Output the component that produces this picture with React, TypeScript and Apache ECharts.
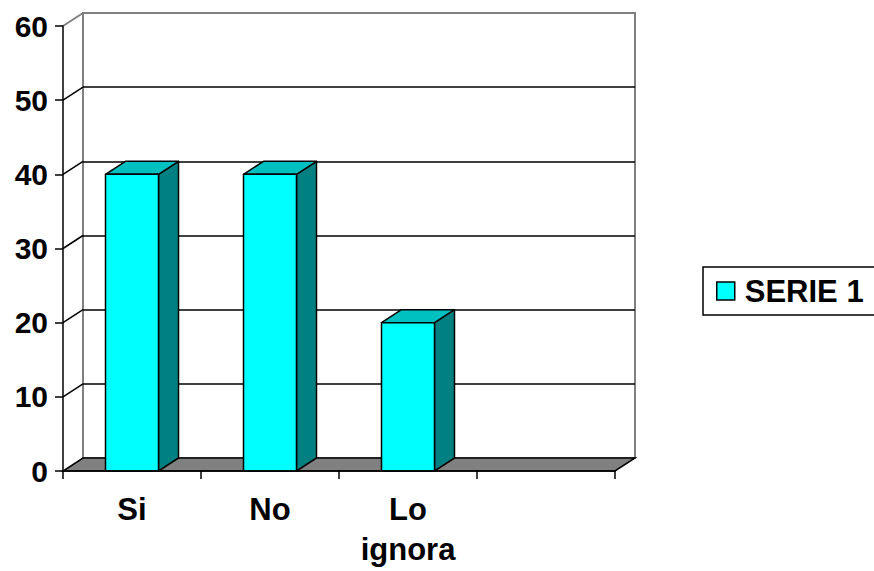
import { useEffect, useRef } from 'react';
import * as echarts from 'echarts';

const categories = ['Si', 'No', 'Lo\nignora', ''];
const serieName = 'SERIE 1';
const serie1 = [40, 40, 20];
const yMin = 0;
const yMax = 60;
const yInterval = 10;

const DX = 20;
const DY = 13;
const FONT = 'Arial, "Liberation Sans", Helvetica, sans-serif';
const FRONT = '#00FFFF';
const TOP = '#00C0C0';
const SIDE = '#008080';

export default function App() {
  const ref = useRef<HTMLDivElement>(null);
  useEffect(() => {
    const chart = echarts.init(ref.current!, null, { renderer: 'svg' });
    const yTicks: number[] = [];
    for (let v = yMin; v <= yMax; v += yInterval) yTicks.push(v);

    const option: any = {
      animation: false,
      backgroundColor: '#fff',
      textStyle: { fontFamily: FONT },
      grid: [
        { left: 63, top: 26, width: 552, height: 445 },
        {
          left: 63 + DX, top: 26 - DY, width: 552, height: 445,
          show: true, backgroundColor: '#fff', borderColor: '#808080', borderWidth: 2,
        },
      ],
      xAxis: [
        {
          type: 'category', gridIndex: 0, data: categories, z: 10,
          axisLine: { lineStyle: { color: '#000', width: 1.5 } },
          axisTick: { show: true, length: 8, lineStyle: { color: '#000', width: 1.5 } },
          axisLabel: {
            color: '#000', fontFamily: FONT, fontWeight: 'bold', fontSize: 31,
            lineHeight: 40, margin: 18, interval: 0,
          },
          splitLine: { show: false },
        },
        { type: 'category', gridIndex: 1, data: categories, show: false },
      ],
      yAxis: [
        {
          type: 'value', gridIndex: 0, min: yMin, max: yMax, interval: yInterval, z: 10,
          axisLine: { show: true, lineStyle: { color: '#000', width: 1.5 } },
          axisTick: { show: true, length: 8, lineStyle: { color: '#000', width: 1.5 } },
          axisLabel: { color: '#000', fontFamily: FONT, fontWeight: 'bold', fontSize: 30, margin: 15 },
          splitLine: { show: false },
        },
        {
          type: 'value', gridIndex: 1, min: yMin, max: yMax, interval: yInterval,
          axisLine: { show: false }, axisTick: { show: false }, axisLabel: { show: false },
          splitLine: { show: true, showMinLine: false, showMaxLine: false, lineStyle: { color: '#000', width: 1.5 } },
        },
      ],
      legend: {
        data: [{ name: serieName, icon: 'rect' }],
        left: 703, top: 267,
        padding: [8.5, 40, 8.5, 13],
        borderColor: '#000', borderWidth: 1.5, backgroundColor: '#fff',
        itemWidth: 18, itemHeight: 18,
        itemStyle: { borderColor: '#000', borderWidth: 1.5 },
        textStyle: {
          color: '#000', fontFamily: FONT, fontWeight: 'bold', fontSize: 31,
          lineHeight: 30, padding: [0, 0, 0, 5],
        },
      },
      series: [
        {
          type: 'custom', name: 'frame', xAxisIndex: 0, yAxisIndex: 0, silent: true, z: 2,
          data: [[0, 0]],
          renderItem: (_params: any, api: any) => {
            const band = api.size([1, 0])[0];
            const first = api.coord([0, yMin]);
            const last = api.coord([categories.length - 1, yMin]);
            const xs = first[0] - band / 2;
            const xe = last[0] + band / 2;
            const y0 = first[1];
            const children: any[] = [
              {
                type: 'polygon',
                shape: { points: [[xs, y0], [xe, y0], [xe + DX, y0 - DY], [xs + DX, y0 - DY]] },
                style: { fill: '#808080', stroke: '#000', lineWidth: 1.5 },
              },
            ];
            yTicks.forEach((v) => {
              if (v === yMin) return;
              const y = api.coord([0, v])[1];
              children.push({
                type: 'line',
                shape: { x1: xs, y1: y, x2: xs + DX, y2: y - DY },
                style: { stroke: v === yMax ? '#808080' : '#000', lineWidth: v === yMax ? 2 : 1.5 },
              });
            });
            return { type: 'group', children };
          },
        },
        {
          type: 'custom', name: serieName, xAxisIndex: 0, yAxisIndex: 0, z: 3,
          itemStyle: { color: FRONT, borderColor: '#000', borderWidth: 1.5 },
          data: serie1.map((v, i) => [i, v]),
          renderItem: (_params: any, api: any) => {
            const idx = api.value(0);
            const v = api.value(1);
            const top = api.coord([idx, v]);
            const base = api.coord([idx, yMin]);
            const band = api.size([1, 0])[0];
            const w = band * 0.384;
            const xl = top[0] - w / 2;
            const xr = top[0] + w / 2;
            const yt = top[1];
            const yb = base[1];
            const line = { stroke: '#000', lineWidth: 1.5, lineJoin: 'round' };
            return {
              type: 'group',
              children: [
                {
                  type: 'polygon',
                  shape: { points: [[xr, yt], [xr + DX, yt - DY], [xr + DX, yb - DY], [xr, yb]] },
                  style: { fill: SIDE, ...line },
                },
                {
                  type: 'polygon',
                  shape: { points: [[xl, yt], [xr, yt], [xr + DX, yt - DY], [xl + DX, yt - DY]] },
                  style: { fill: TOP, ...line },
                },
                {
                  type: 'rect',
                  shape: { x: xl, y: yt, width: w, height: yb - yt },
                  style: { fill: FRONT, ...line },
                },
              ],
            };
          },
        },
      ],
    };
    chart.setOption(option);
    return () => chart.dispose();
  }, []);
  return <div ref={ref} style={{ position: 'fixed', left: 0, top: 0, width: 874, height: 571 }} />;
}
